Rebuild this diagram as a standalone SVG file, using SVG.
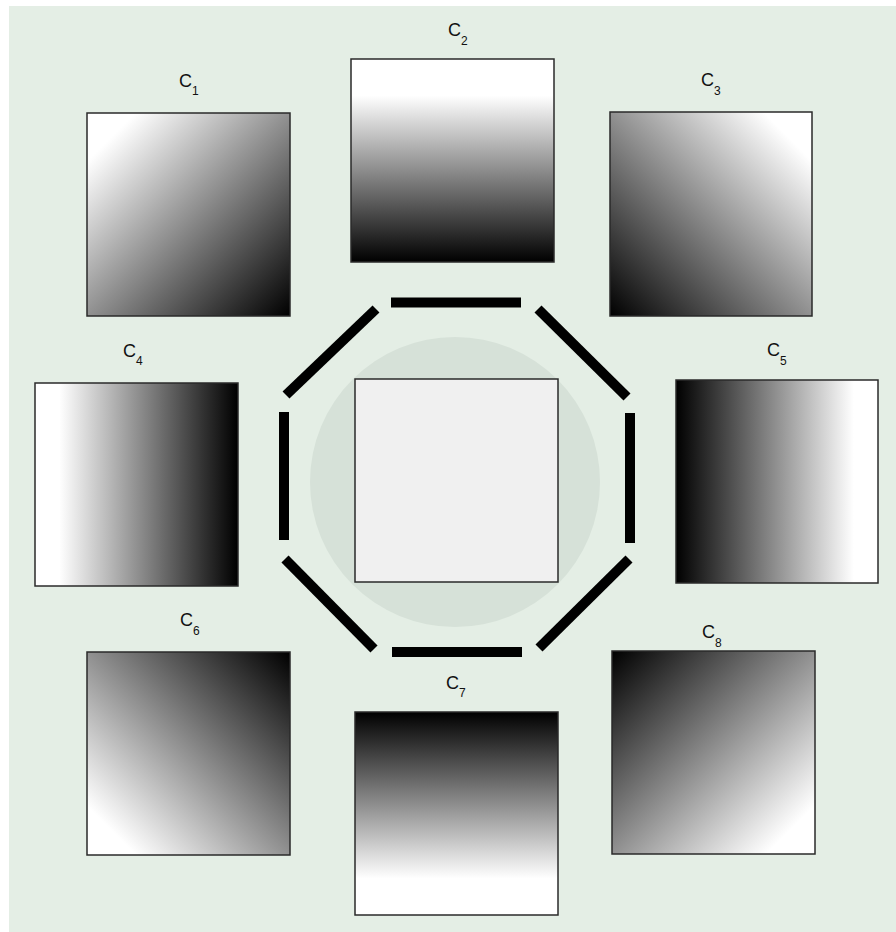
<svg xmlns="http://www.w3.org/2000/svg" width="896" height="932" viewBox="0 0 896 932">
<style>
.sq{stroke:#2a2a2a;stroke-width:1.5}
.lbl{font-family:"Liberation Sans",Arial,sans-serif;font-size:18px;fill:#111}
.sub{font-size:12px}
.seg{stroke:#000;stroke-width:10;fill:none}
</style>
<defs>
<linearGradient id="g1" x1="0" y1="0" x2="1" y2="1"><stop offset="0.12" stop-color="#fff"/><stop offset="1" stop-color="#000"/></linearGradient>
<linearGradient id="g2" x1="0" y1="0" x2="0" y2="1"><stop offset="0.18" stop-color="#fff"/><stop offset="1" stop-color="#000"/></linearGradient>
<linearGradient id="g3" x1="1" y1="0" x2="0" y2="1"><stop offset="0.12" stop-color="#fff"/><stop offset="1" stop-color="#000"/></linearGradient>
<linearGradient id="g4" x1="0" y1="0" x2="1" y2="0"><stop offset="0.12" stop-color="#fff"/><stop offset="1" stop-color="#000"/></linearGradient>
<linearGradient id="g5" x1="1" y1="0" x2="0" y2="0"><stop offset="0.12" stop-color="#fff"/><stop offset="1" stop-color="#000"/></linearGradient>
<linearGradient id="g6" x1="0" y1="1" x2="1" y2="0"><stop offset="0.12" stop-color="#fff"/><stop offset="1" stop-color="#000"/></linearGradient>
<linearGradient id="g7" x1="0" y1="1" x2="0" y2="0"><stop offset="0.18" stop-color="#fff"/><stop offset="1" stop-color="#000"/></linearGradient>
<linearGradient id="g8" x1="1" y1="1" x2="0" y2="0"><stop offset="0.12" stop-color="#fff"/><stop offset="1" stop-color="#000"/></linearGradient>
</defs>
<rect x="0" y="0" width="896" height="932" fill="#fff"/>
<rect x="9" y="6" width="887" height="926" fill="#e4eee5"/>
<circle cx="455" cy="482" r="145" fill="#d6e1d8"/>
<g id="connectors">
<line class="seg" x1="391" y1="302.5" x2="521" y2="302.5"/>
<line class="seg" x1="392" y1="652" x2="522" y2="652"/>
<line class="seg" x1="284" y1="412" x2="284" y2="540"/>
<line class="seg" x1="630" y1="413" x2="630" y2="543"/>
<line class="seg" x1="286" y1="395" x2="376" y2="309"/>
<line class="seg" x1="538" y1="309" x2="627" y2="397"/>
<line class="seg" x1="629" y1="559" x2="539" y2="648"/>
<line class="seg" x1="285" y1="559" x2="374" y2="649"/>
</g>
<g id="center"><rect class="sq" x="355" y="379" width="203" height="203" fill="#f0f0f0" stroke="#555"/></g>
<g id="c1"><rect class="sq" x="87" y="113" width="203" height="203" fill="url(#g1)"/><text class="lbl" x="179" y="87">C<tspan class="sub" dy="8">1</tspan></text></g>
<g id="c2"><rect class="sq" x="351" y="59" width="203" height="203" fill="url(#g2)"/><text class="lbl" x="448" y="36">C<tspan class="sub" dy="9">2</tspan></text></g>
<g id="c3"><rect class="sq" x="610" y="112" width="202" height="204" fill="url(#g3)"/><text class="lbl" x="701" y="86">C<tspan class="sub" dy="9">3</tspan></text></g>
<g id="c4"><rect class="sq" x="35" y="383" width="203" height="203" fill="url(#g4)"/><text class="lbl" x="123" y="357">C<tspan class="sub" dy="8">4</tspan></text></g>
<g id="c5"><rect class="sq" x="676" y="380" width="202" height="203" fill="url(#g5)"/><text class="lbl" x="767" y="356">C<tspan class="sub" dy="9">5</tspan></text></g>
<g id="c6"><rect class="sq" x="87" y="652" width="203" height="203" fill="url(#g6)"/><text class="lbl" x="180" y="626">C<tspan class="sub" dy="9">6</tspan></text></g>
<g id="c7"><rect class="sq" x="355" y="712" width="203" height="203" fill="url(#g7)"/><text class="lbl" x="446" y="689">C<tspan class="sub" dy="8">7</tspan></text></g>
<g id="c8"><rect class="sq" x="612" y="651" width="203" height="203" fill="url(#g8)"/><text class="lbl" x="702" y="638">C<tspan class="sub" dy="9">8</tspan></text></g>
</svg>
